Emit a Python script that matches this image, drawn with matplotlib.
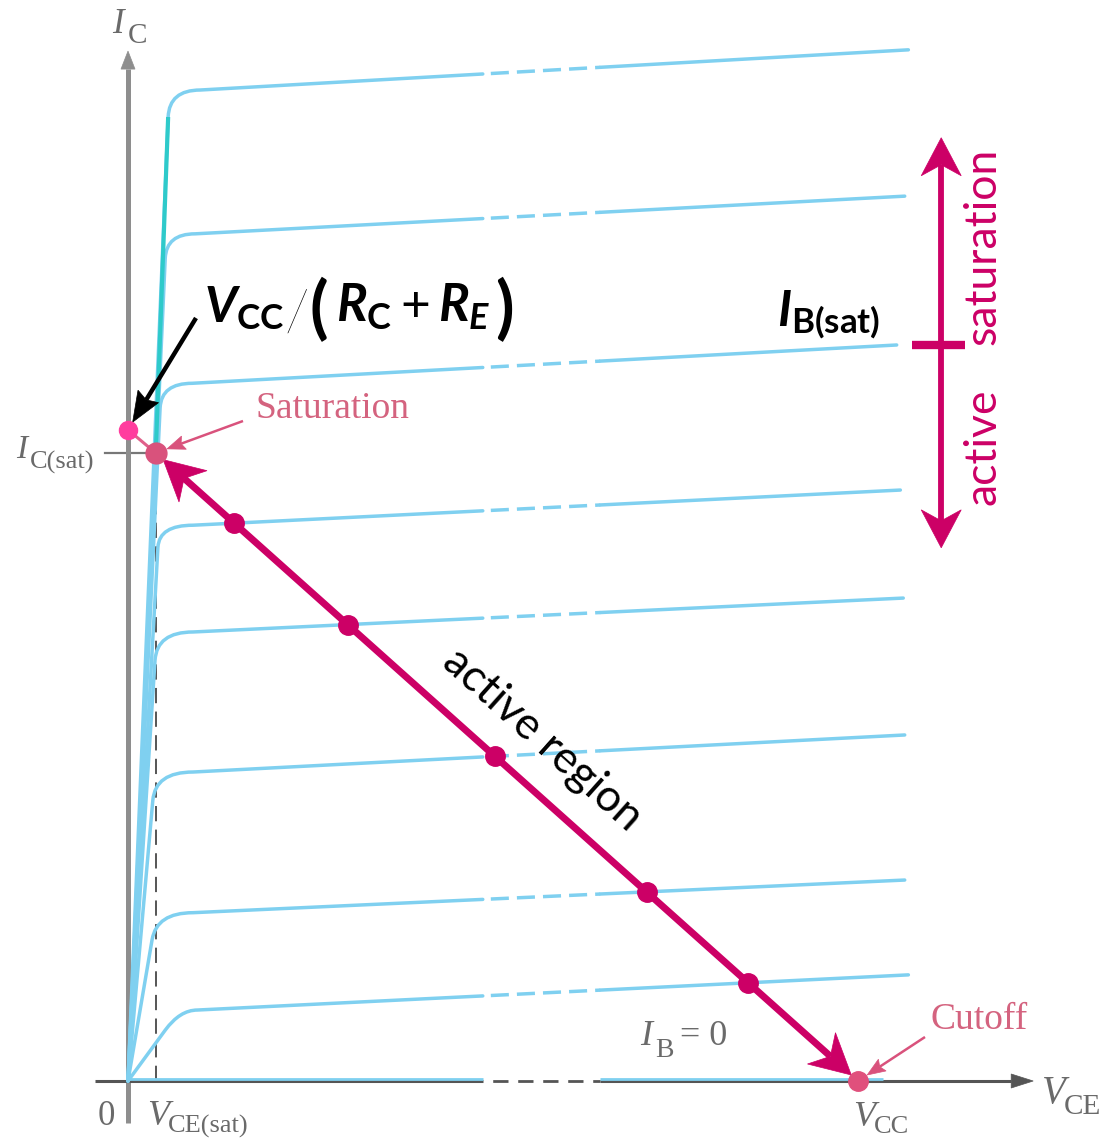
import numpy as np
import matplotlib
matplotlib.use("Agg")
import matplotlib.pyplot as plt
from matplotlib.path import Path
from matplotlib.patches import PathPatch, Polygon
from matplotlib.lines import Line2D
from matplotlib.transforms import IdentityTransform

# ---------------- data (schematic: V_CE in volts, I_C in mA) ----------------
V_CC = 10.0
VCE_SAT = 0.38
IC_SAT = 10.0
IC_INTERCEPT = 10.37            # V_CC/(R_C+R_E) on the I_C axis

# output characteristic curves, one per base-current step (top to bottom)
curve_branch_v = [0.55, 0.51, 0.44, 0.41, 0.37, 0.34, 0.33, 0.51]
curve_branch_i = [15.35, 13.10, 10.72, 8.50, 6.70, 4.47, 2.25, 0.81]
curve_knee_v = [0.99, 0.92, 0.88, 0.89, 0.89, 0.89, 0.89, 0.95]
curve_knee_i = [15.78, 13.49, 11.11, 8.85, 7.15, 4.92, 2.68, 1.13]
curve_end_v = [10.69, 10.64, 10.53, 10.58, 10.62, 10.64, 10.64, 10.69]
curve_end_i = [16.42, 14.09, 11.72, 9.41, 7.69, 5.51, 3.20, 1.69]
IB_SAT_CURVE = 2                 # curve index marked I_B(sat)
IB0_level = 0.03
IB0_end_v = 10.34
gap_start_v = 4.86               # dashed break in every curve
gap_end_v = 6.47
load_dot_curves = [3, 4, 5, 6, 7]  # curves whose crossing with the load line is dotted

# axes / annotation extents
x_axis_start_v, x_axis_tip_v = -0.45, 12.40
y_axis_start_i, y_axis_tip_i = -0.67, 16.40
ic_tick_v = (-0.32, 0.26)
bracket_v = 11.14
bracket_top_i, bracket_bottom_i = 15.02, 8.49
bracket_tick_v = (10.74, 11.47)

# ---------------- view (pixel grid of the reference) ----------------
W, H, DPI = 1109, 1139, 100
OX, OY = 128, 1081               # origin in pixels
PX_V, PX_I = 73.0, 62.8          # pixels per volt / per mA


def P(x, y):
    """pixel position of the reference -> data coordinates (for text placement)"""
    return ((x - OX) / PX_V, (OY - y) / PX_I)


BLUE = "#7fd0f0"
TEAL = "#2ecaca"
MAG = "#cc0066"
ROSE = "#d9527c"
PINK = "#ff3d9e"
ROSE_TXT = "#d4637f"
GRAY_TXT = "#6a6a6a"
AX_Y = "#8e8e8e"
AX_X = "#555555"

plt.rcParams["lines.scale_dashes"] = False
plt.rcParams["mathtext.fontset"] = "custom"
plt.rcParams["mathtext.it"] = "Lato:italic:bold"
plt.rcParams["mathtext.bf"] = "Lato:bold"
plt.rcParams["mathtext.rm"] = "Lato"

fig = plt.figure(figsize=(W / DPI, H / DPI), dpi=DPI)
ax = fig.add_axes([0, 0, 1, 1])
ax.set_xlim(-OX / PX_V, (W - OX) / PX_V)
ax.set_ylim(-(H - OY) / PX_I, OY / PX_I)
ax.set_autoscale_on(False)
ax.axis("off")
fig.patch.set_facecolor("white")

T = ax.transData
ID = IdentityTransform()


def disp(p):
    return np.array(T.transform(p), dtype=float)


def head(tip, d, L, hw, notch, color, z):
    n = np.array([-d[1], d[0]])
    base = tip - d * L
    pts = [tip, base + n * hw, tip - d * (L - notch), base - n * hw]
    ax.add_patch(Polygon(pts, closed=True, transform=ID, fc=color, ec=color, lw=0.5, zorder=z))
    return tip - d * (L - notch)


def arrow(p_from, p_to, lw, color, L, hw, notch, shrink_from=0, shrink_to=0,
          both=False, z=5):
    a, b = disp(p_from), disp(p_to)
    d = (b - a) / np.hypot(*(b - a))
    a = a + d * shrink_from
    b = b - d * shrink_to
    end_b = head(b, d, L, hw, notch, color, z)
    end_a = head(a, -d, L, hw, notch, color, z) if both else a
    ax.add_line(Line2D([end_a[0], end_b[0]], [end_a[1], end_b[1]], transform=ID,
                       color=color, lw=lw, solid_capstyle="butt", zorder=z))


# ---------------- axes ----------------
ax.plot([0, 0], [y_axis_start_i, y_axis_tip_i - 18 / PX_I], color=AX_Y, lw=3.6,
        solid_capstyle="butt", zorder=2)
head(disp((0, y_axis_tip_i)), np.array([0.0, 1.0]), 18, 7, 0, AX_Y, 2)
ax.plot([x_axis_start_v, gap_start_v], [0, 0], color=AX_X, lw=2.2, solid_capstyle="butt", zorder=2)
ax.plot([gap_start_v, gap_end_v], [0, 0], color=AX_X, lw=2.0, linestyle=(11, (11, 7)), zorder=2)
ax.plot([gap_end_v, x_axis_tip_v - 22 / PX_V], [0, 0], color=AX_X, lw=2.2,
        solid_capstyle="butt", zorder=2)
head(disp((x_axis_tip_v, 0)), np.array([1.0, 0.0]), 22, 7, 0, AX_X, 2)

# I_C(sat) tick and V_CE(sat) dashed guide
ax.plot(ic_tick_v, [IC_SAT, IC_SAT], color="#777777", lw=1.6, zorder=1.5)
ax.plot([VCE_SAT, VCE_SAT], [0, IC_SAT - 0.15], color="#555555", lw=1.4,
        linestyle=(0, (11, 6)), zorder=1.5)

# ---------------- characteristic curves ----------------
for k in range(len(curve_knee_i)):
    bv, bi = curve_branch_v[k], curve_branch_i[k]
    kv, ki = curve_knee_v[k], curve_knee_i[k]
    ev, ei = curve_end_v[k], curve_end_i[k]
    cv = bv * ki / bi                      # control point: rising line meets the flat line
    slope = (ei - ki) / (ev - kv)
    g0 = ki + slope * (gap_start_v - kv)
    g1 = ki + slope * (gap_end_v - kv)
    verts = [(0, 0), (bv, bi), (cv, ki), (kv, ki), (gap_start_v, g0)]
    codes = [Path.MOVETO, Path.LINETO, Path.CURVE3, Path.CURVE3, Path.LINETO]
    ax.add_patch(PathPatch(Path(verts, codes), fill=False, ec=BLUE, lw=2.5,
                           capstyle="round", joinstyle="round", zorder=3))
    ax.plot([gap_start_v, gap_end_v], [g0, g1], color=BLUE, lw=2.5,
            linestyle=(13, (13, 5.8)), zorder=3)
    ax.plot([gap_end_v, ev], [g1, ei], color=BLUE, lw=2.5, solid_capstyle="round", zorder=3)

# I_B = 0 curve along the axis
ax.plot([0, gap_start_v], [IB0_level, IB0_level], color=BLUE, lw=2.0, solid_capstyle="butt", zorder=3)
ax.plot([gap_end_v, IB0_end_v], [IB0_level, IB0_level], color=BLUE, lw=2.0,
        solid_capstyle="butt", zorder=3)

# teal saturation boundary
ax.plot([VCE_SAT, curve_branch_v[0]], [IC_SAT, curve_branch_i[0]], color=TEAL, lw=3.0,
        solid_capstyle="butt", zorder=3.5)

# ---------------- load line ----------------
ax.plot([0, VCE_SAT], [IC_INTERCEPT, IC_SAT], color="#e0608a", lw=2.2, zorder=4)
arrow((VCE_SAT, IC_SAT), (V_CC, 0), 5.0, MAG, 40, 21, 12, shrink_from=10, shrink_to=9,
      both=True, z=5)

# crossings of the load line with the characteristic curves
m = -IC_SAT / (V_CC - VCE_SAT)
dot_v, dot_i = [], []
for k in load_dot_curves:
    kv, ki = curve_knee_v[k], curve_knee_i[k]
    s = (curve_end_i[k] - ki) / (curve_end_v[k] - kv)
    # solve ki + s (v - kv) = m (v - V_CC)
    v = (ki - s * kv + m * V_CC) / (m - s)
    dot_v.append(v)
    dot_i.append(m * (v - V_CC))
ax.plot(dot_v, dot_i, "o", color=MAG, ms=14, zorder=6)

ax.plot([VCE_SAT], [IC_SAT], "o", color=ROSE, ms=15, zorder=6)
ax.plot([V_CC], [0], "o", color="#e0507c", ms=14, zorder=6)
ax.plot([0], [IC_INTERCEPT], "o", color=PINK, ms=13, zorder=6)

# pointer arrows
arrow(P(243, 421), (VCE_SAT, IC_SAT), 1.8, ROSE, 18, 7, 3, shrink_to=12, z=5)
arrow(P(925, 1037), (V_CC, 0), 1.8, ROSE, 18, 7, 3, shrink_to=11, z=5)
arrow(P(196, 318), (0, IC_INTERCEPT), 3.2, "black", 30, 12, 4, shrink_to=9, z=5)

# right-hand bracket
arrow((bracket_v, bracket_bottom_i), (bracket_v, bracket_top_i), 4.2, MAG, 38, 20, 11,
      both=True, z=5)
ax.plot(bracket_tick_v, [curve_end_i[IB_SAT_CURVE]] * 2, color=MAG, lw=6,
        solid_capstyle="butt", zorder=5)

# ---------------- text ----------------
SERIF = "Liberation Serif"


def stext(x, y, s, size, color=GRAY_TXT, italic=False):
    ax.text(*P(x, y), s, fontsize=size, family=SERIF, style="italic" if italic else "normal",
            color=color, ha="left", va="baseline", zorder=7)


stext(112, 33, "I", 25, italic=True)
stext(128, 43, "C", 21)
stext(16, 458, "I", 24, italic=True)
stext(30, 469, "C(sat)", 19)
stext(98, 1125, "0", 25)
stext(147, 1125, "V", 26, italic=True)
stext(168, 1133, "CE(sat)", 19)
stext(853, 1126, "V", 26, italic=True)
stext(874, 1133, "CC", 19)
stext(1042, 1103, "V", 28, italic=True)
stext(1064, 1114, "CE", 21)
stext(640, 1045, "I", 26, italic=True)
stext(655, 1057, "B", 20)
stext(680, 1045, "= 0", 26)
stext(255, 418, "Saturation", 27, color=ROSE_TXT)
stext(930, 1029, "Cutoff", 27, color=ROSE_TXT)

ax.text(*P(983, 246), "saturation", rotation=90, fontsize=32, family="Lato", color=MAG,
        ha="center", va="center", zorder=7)
ax.text(*P(983, 447), "active", rotation=90, fontsize=32, family="Lato", color=MAG,
        ha="center", va="center", zorder=7)

a, b = disp((VCE_SAT, IC_SAT)), disp((V_CC, 0))
ang = np.degrees(np.arctan2(b[1] - a[1], b[0] - a[0]))
v_lab = 5.28
ax.annotate("active region", xy=(v_lab, IC_SAT * (V_CC - v_lab) / (V_CC - VCE_SAT)),
            xytext=(21, 24), textcoords="offset points", rotation=ang, rotation_mode="anchor",
            ha="center", va="center", fontsize=32, family="Lato", color="black", zorder=7)

# V_CC/(R_C+R_E) built from pieces so the slash and brackets are tall
ax.text(*P(204, 322), r"$V_{\mathbf{CC}}$", fontsize=36, ha="left", va="baseline",
        color="black", zorder=7)
ax.text(*P(285, 332), "/", fontsize=42, family="Lato", fontweight="light", ha="left",
        va="baseline", color="black", zorder=7)
ax.text(*P(309, 331), "(", fontsize=49, family="Lato", fontweight="bold", ha="left",
        va="baseline", color="black", zorder=7)
ax.text(*P(336, 322), r"$R_{\mathbf{C}}+R_{E}$", fontsize=37, ha="left", va="baseline",
        color="black", zorder=7)
ax.text(*P(495, 331), ")", fontsize=49, family="Lato", fontweight="bold", ha="left",
        va="baseline", color="black", zorder=7)

ax.text(*P(829, 315), r"$I_{\mathbf{B(sat)}}$", fontsize=36, ha="center", va="center",
        color="black", zorder=7)

fig.savefig("out.png", dpi=DPI, facecolor="white")
